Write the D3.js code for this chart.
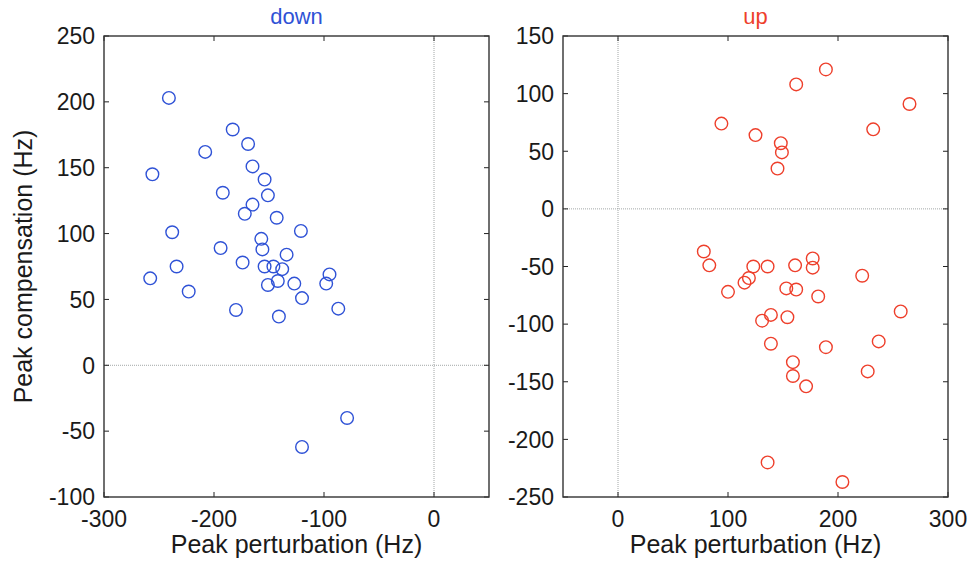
<!DOCTYPE html>
<html>
<head>
<meta charset="utf-8">
<script src="https://cdn.jsdelivr.net/npm/d3@7"></script>
<style>
  body { margin: 0; background: #fff; }
  svg text { font-family: "Liberation Sans", Arial, sans-serif; fill: #1a1a1a; }
</style>
</head>
<body>
<div id="chart"></div>
<script>
// down trials: peak perturbation (Hz) vs peak compensation (Hz)
var downX = [-241, -183, -169, -208, -165, -256, -154, -192, -151, -165, -172, -143,
             -238, -121, -157, -156, -194, -134, -174, -234, -154, -146, -138, -95,
             -258, -142, -151, -127, -98, -223, -120, -180, -141, -87, -79, -120];
var downY = [203, 179, 168, 162, 151, 145, 141, 131, 129, 122, 115, 112,
             101, 102, 96, 88, 89, 84, 78, 75, 75, 75, 73, 69,
             66, 64, 61, 62, 62, 56, 51, 42, 37, 43, -40, -62];

// up trials
var upX = [94, 125, 189, 162, 265, 232, 148, 149, 145, 78, 83, 123,
           136, 115, 119, 100, 161, 177, 177, 222, 153, 162, 182, 257,
           139, 131, 154, 139, 189, 237, 159, 159, 227, 171, 136, 204];
var upY = [74, 64, 121, 108, 91, 69, 57, 49, 35, -37, -49, -50,
           -50, -64, -60, -72, -49, -43, -51, -58, -69, -70, -76, -89,
           -92, -97, -94, -117, -120, -115, -133, -145, -141, -154, -220, -237];

var xTicksDown = [-300, -200, -100, 0];
var yTicksDown = [-100, -50, 0, 50, 100, 150, 200, 250];
var xTicksUp = [0, 100, 200, 300];
var yTicksUp = [-250, -200, -150, -100, -50, 0, 50, 100, 150];

var W = 974, H = 562;
var svg = d3.select("#chart").append("svg")
    .attr("width", W)
    .attr("height", H);

var panels = [
  { title: "down", color: "#2f52d6", xs: downX, ys: downY,
    xDom: [-300, 50], yDom: [-100, 250], xTicks: xTicksDown, yTicks: yTicksDown,
    left: 104, right: 489, top: 36, bottom: 497, ylabel: true },
  { title: "up", color: "#ee3f2b", xs: upX, ys: upY,
    xDom: [-50, 300], yDom: [-250, 150], xTicks: xTicksUp, yTicks: yTicksUp,
    left: 563, right: 948, top: 36, bottom: 497, ylabel: false }
];

panels.forEach(function(p) {
  var x = d3.scaleLinear().domain(p.xDom).range([p.left, p.right]);
  var y = d3.scaleLinear().domain(p.yDom).range([p.bottom, p.top]);
  var g = svg.append("g");
  var tl = 5;

  // zero reference lines
  g.append("line")
      .attr("x1", x(0)).attr("x2", x(0))
      .attr("y1", p.top).attr("y2", p.bottom)
      .attr("stroke", "#8a9090").attr("stroke-width", 0.8)
      .attr("stroke-dasharray", "1,1");
  g.append("line")
      .attr("x1", p.left).attr("x2", p.right)
      .attr("y1", y(0)).attr("y2", y(0))
      .attr("stroke", "#8a9090").attr("stroke-width", 0.8)
      .attr("stroke-dasharray", "1,1");

  // inward ticks on all four sides
  p.xTicks.forEach(function(t) {
    g.append("line").attr("x1", x(t)).attr("x2", x(t))
        .attr("y1", p.bottom).attr("y2", p.bottom - tl)
        .attr("stroke", "#222").attr("stroke-width", 1);
    g.append("line").attr("x1", x(t)).attr("x2", x(t))
        .attr("y1", p.top).attr("y2", p.top + tl)
        .attr("stroke", "#222").attr("stroke-width", 1);
    g.append("text")
        .attr("x", x(t)).attr("y", 527)
        .attr("text-anchor", "middle")
        .style("font-size", "23px")
        .text(t);
  });
  p.yTicks.forEach(function(t) {
    g.append("line").attr("x1", p.left).attr("x2", p.left + tl)
        .attr("y1", y(t)).attr("y2", y(t))
        .attr("stroke", "#222").attr("stroke-width", 1);
    g.append("line").attr("x1", p.right).attr("x2", p.right - tl)
        .attr("y1", y(t)).attr("y2", y(t))
        .attr("stroke", "#222").attr("stroke-width", 1);
    g.append("text")
        .attr("x", p.left - 9).attr("y", y(t))
        .attr("dy", "0.36em")
        .attr("text-anchor", "end")
        .style("font-size", "23px")
        .text(t);
  });

  // box
  g.append("rect")
      .attr("x", p.left).attr("y", p.top)
      .attr("width", p.right - p.left).attr("height", p.bottom - p.top)
      .attr("fill", "none").attr("stroke", "#333").attr("stroke-width", 1.4);

  // points
  g.selectAll(".dot")
      .data(d3.range(p.xs.length))
      .enter().append("circle")
      .attr("class", "dot")
      .attr("cx", function(i) { return x(p.xs[i]); })
      .attr("cy", function(i) { return y(p.ys[i]); })
      .attr("r", 6.3)
      .attr("fill", "none")
      .attr("stroke", p.color)
      .attr("stroke-width", 1.4);

  // title
  g.append("text")
      .attr("x", (p.left + p.right) / 2).attr("y", 24)
      .attr("text-anchor", "middle")
      .style("font-size", "22px")
      .style("fill", p.color)
      .text(p.title);

  // x label
  g.append("text")
      .attr("x", (p.left + p.right) / 2).attr("y", 553)
      .attr("text-anchor", "middle")
      .style("font-size", "25px")
      .text("Peak perturbation (Hz)");

  if (p.ylabel) {
    g.append("text")
        .attr("transform", "translate(32," + ((p.top + p.bottom) / 2) + ") rotate(-90)")
        .attr("text-anchor", "middle")
        .style("font-size", "25px")
        .text("Peak compensation (Hz)");
  }
});
</script>
</body>
</html>
